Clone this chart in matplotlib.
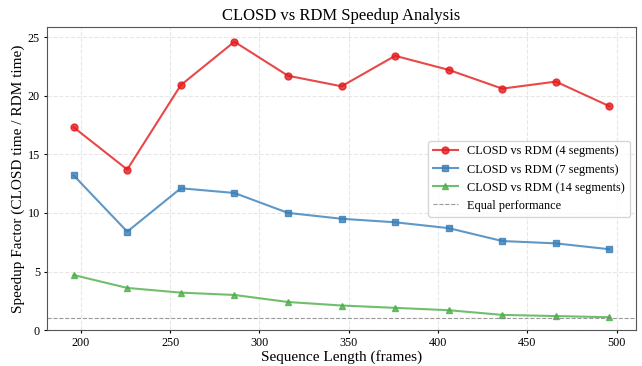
import numpy as np
import matplotlib.pyplot as plt

plt.rcParams['font.family'] = ['Liberation Serif', 'DejaVu Serif']

seq_len = [196, 226, 256, 286, 316, 346, 376, 406, 436, 466, 496]
seg4 = [17.3, 13.7, 20.9, 24.6, 21.7, 20.8, 23.4, 22.2, 20.6, 21.2, 19.1]
seg7 = [13.2, 8.4, 12.1, 11.7, 10.0, 9.5, 9.2, 8.7, 7.6, 7.4, 6.9]
seg14 = [4.7, 3.6, 3.2, 3.0, 2.4, 2.1, 1.9, 1.7, 1.3, 1.2, 1.1]

fig, ax = plt.subplots(figsize=(6.42, 3.66), dpi=100)
fig.subplots_adjust(left=0.073, right=0.991, bottom=0.098, top=0.926)

ax.plot(seq_len, seg4, marker='o', color='#e41a1c', alpha=0.8, lw=1.5, ms=5,
        label='CLOSD vs RDM (4 segments)')
ax.plot(seq_len, seg7, marker='s', color='#377eb8', alpha=0.8, lw=1.5, ms=5,
        label='CLOSD vs RDM (7 segments)')
ax.plot(seq_len, seg14, marker='^', color='#4daf4a', alpha=0.8, lw=1.5, ms=5,
        label='CLOSD vs RDM (14 segments)')
ax.axhline(1, color='gray', ls='--', lw=0.8, alpha=0.8, label='Equal performance')

ax.set_xlim(181, 511)
ax.set_ylim(0, 25.85)
ax.grid(True, ls='--', alpha=0.3)
ax.set_xlabel('Sequence Length (frames)', fontsize=11, labelpad=1)
ax.set_ylabel('Speedup Factor (CLOSD time / RDM time)', fontsize=11, labelpad=2)
ax.set_title('CLOSD vs RDM Speedup Analysis', fontsize=12, pad=5)
ax.tick_params(labelsize=8.7, length=2.5, pad=2.5)
for s in ax.spines.values():
    s.set_color('#555555')
ax.legend(loc='center right', fontsize=8.8)

fig.savefig('out.png')
